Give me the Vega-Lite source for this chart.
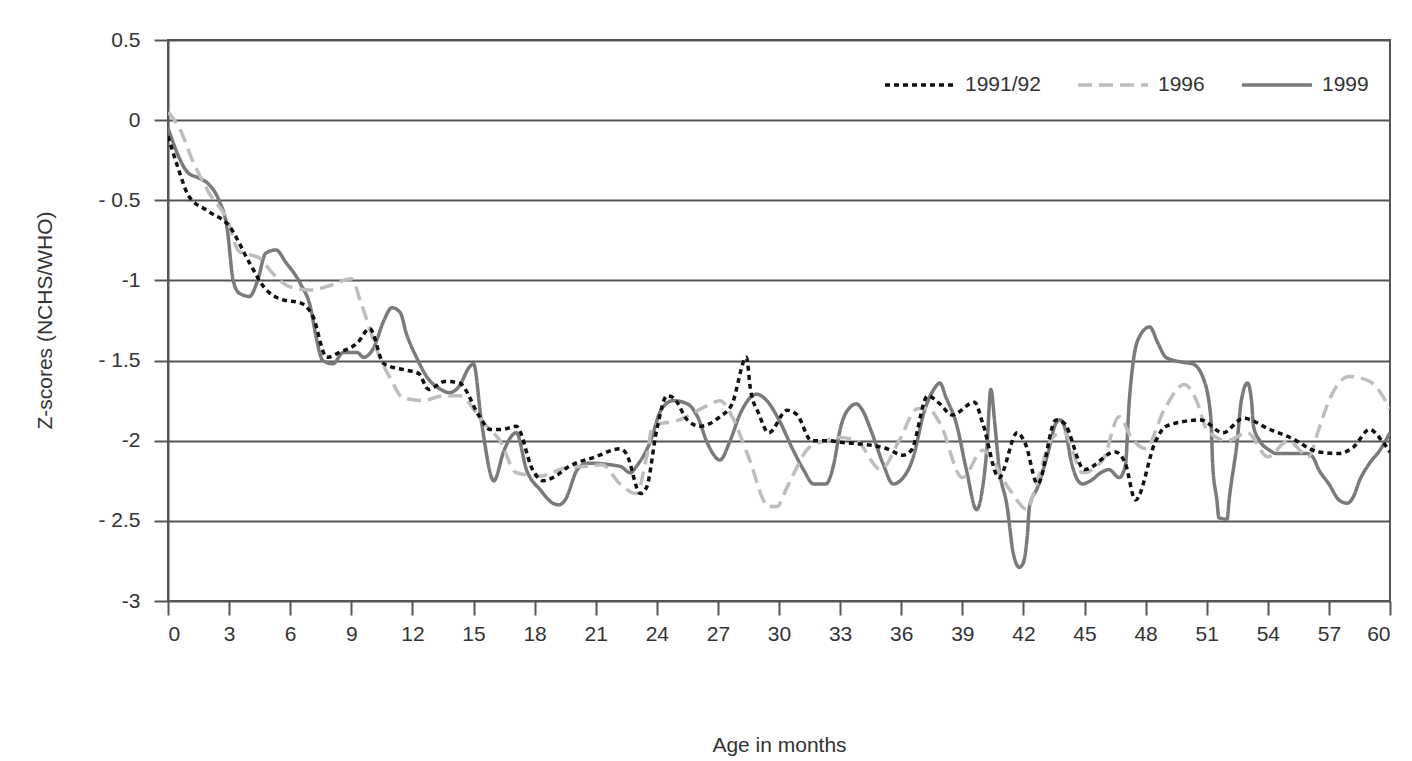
{
  "$schema": "https://vega.github.io/schema/vega-lite/v6.json",
  "autosize": "none",
  "width": 1222,
  "height": 561,
  "padding": {"left": 168, "top": 40, "right": 22, "bottom": 160},
  "background": "white",
  "config": {
    "font": "Liberation Sans",
    "view": {"stroke": "#555555", "strokeWidth": 2},
    "axis": {"labelFont": "Liberation Sans", "titleFont": "Liberation Sans", "labelColor": "#333333", "titleColor": "#333333", "labelFontSize": 21, "titleFontSize": 21, "titleFontWeight": "normal", "domainColor": "#555555", "domainWidth": 2, "tickColor": "#555555", "tickWidth": 2, "tickSize": 14}
  },
  "data": {"values": [
    {"m":0,"z":-0.05,"s":"1999"},{"m":1,"z":-0.33,"s":"1999"},{"m":1.5,"z":-0.36,"s":"1999"},{"m":2,"z":-0.4,"s":"1999"},{"m":2.5,"z":-0.5,"s":"1999"},{"m":2.9,"z":-0.67,"s":"1999"},{"m":3.2,"z":-1.0,"s":"1999"},{"m":3.5,"z":-1.08,"s":"1999"},{"m":4,"z":-1.1,"s":"1999"},{"m":4.4,"z":-1.0,"s":"1999"},{"m":4.8,"z":-0.83,"s":"1999"},{"m":5.3,"z":-0.81,"s":"1999"},{"m":5.8,"z":-0.89,"s":"1999"},{"m":6.5,"z":-1.02,"s":"1999"},{"m":7,"z":-1.17,"s":"1999"},{"m":7.3,"z":-1.37,"s":"1999"},{"m":7.6,"z":-1.5,"s":"1999"},{"m":8.1,"z":-1.52,"s":"1999"},{"m":8.6,"z":-1.45,"s":"1999"},{"m":9.3,"z":-1.45,"s":"1999"},{"m":9.6,"z":-1.48,"s":"1999"},{"m":10.1,"z":-1.42,"s":"1999"},{"m":10.6,"z":-1.25,"s":"1999"},{"m":11,"z":-1.17,"s":"1999"},{"m":11.4,"z":-1.2,"s":"1999"},{"m":11.7,"z":-1.33,"s":"1999"},{"m":12.2,"z":-1.48,"s":"1999"},{"m":12.7,"z":-1.6,"s":"1999"},{"m":13.4,"z":-1.68,"s":"1999"},{"m":13.8,"z":-1.7,"s":"1999"},{"m":14.3,"z":-1.66,"s":"1999"},{"m":14.8,"z":-1.54,"s":"1999"},{"m":15,"z":-1.52,"s":"1999"},{"m":15.4,"z":-1.89,"s":"1999"},{"m":16,"z":-2.25,"s":"1999"},{"m":16.5,"z":-2.06,"s":"1999"},{"m":17.1,"z":-1.95,"s":"1999"},{"m":17.6,"z":-2.18,"s":"1999"},{"m":18.3,"z":-2.31,"s":"1999"},{"m":18.9,"z":-2.39,"s":"1999"},{"m":19.2,"z":-2.4,"s":"1999"},{"m":19.5,"z":-2.37,"s":"1999"},{"m":20.1,"z":-2.18,"s":"1999"},{"m":20.6,"z":-2.14,"s":"1999"},{"m":22.2,"z":-2.16,"s":"1999"},{"m":22.7,"z":-2.2,"s":"1999"},{"m":23,"z":-2.16,"s":"1999"},{"m":23.7,"z":-2.0,"s":"1999"},{"m":24.2,"z":-1.81,"s":"1999"},{"m":24.8,"z":-1.75,"s":"1999"},{"m":25.5,"z":-1.77,"s":"1999"},{"m":26,"z":-1.85,"s":"1999"},{"m":26.5,"z":-2.02,"s":"1999"},{"m":27.1,"z":-2.12,"s":"1999"},{"m":27.6,"z":-2.0,"s":"1999"},{"m":28.1,"z":-1.83,"s":"1999"},{"m":28.9,"z":-1.71,"s":"1999"},{"m":29.4,"z":-1.75,"s":"1999"},{"m":30,"z":-1.87,"s":"1999"},{"m":30.7,"z":-2.06,"s":"1999"},{"m":31.2,"z":-2.18,"s":"1999"},{"m":31.7,"z":-2.27,"s":"1999"},{"m":32.3,"z":-2.27,"s":"1999"},{"m":32.7,"z":-2.14,"s":"1999"},{"m":33,"z":-1.93,"s":"1999"},{"m":33.5,"z":-1.79,"s":"1999"},{"m":33.8,"z":-1.77,"s":"1999"},{"m":34.1,"z":-1.81,"s":"1999"},{"m":34.5,"z":-1.93,"s":"1999"},{"m":35.1,"z":-2.14,"s":"1999"},{"m":35.6,"z":-2.27,"s":"1999"},{"m":36.1,"z":-2.23,"s":"1999"},{"m":36.6,"z":-2.1,"s":"1999"},{"m":37.1,"z":-1.83,"s":"1999"},{"m":37.6,"z":-1.68,"s":"1999"},{"m":37.9,"z":-1.64,"s":"1999"},{"m":38.2,"z":-1.73,"s":"1999"},{"m":38.7,"z":-1.89,"s":"1999"},{"m":39.2,"z":-2.18,"s":"1999"},{"m":39.7,"z":-2.43,"s":"1999"},{"m":40,"z":-2.29,"s":"1999"},{"m":40.2,"z":-2.06,"s":"1999"},{"m":40.4,"z":-1.68,"s":"1999"},{"m":40.6,"z":-1.9,"s":"1999"},{"m":40.8,"z":-2.16,"s":"1999"},{"m":41.2,"z":-2.41,"s":"1999"},{"m":41.5,"z":-2.7,"s":"1999"},{"m":41.8,"z":-2.79,"s":"1999"},{"m":42,"z":-2.76,"s":"1999"},{"m":42.2,"z":-2.58,"s":"1999"},{"m":42.3,"z":-2.41,"s":"1999"},{"m":42.7,"z":-2.29,"s":"1999"},{"m":43.2,"z":-2.08,"s":"1999"},{"m":43.6,"z":-1.89,"s":"1999"},{"m":43.8,"z":-1.87,"s":"1999"},{"m":44.1,"z":-1.95,"s":"1999"},{"m":44.3,"z":-2.1,"s":"1999"},{"m":44.6,"z":-2.23,"s":"1999"},{"m":44.9,"z":-2.27,"s":"1999"},{"m":45.3,"z":-2.25,"s":"1999"},{"m":45.8,"z":-2.2,"s":"1999"},{"m":46.2,"z":-2.18,"s":"1999"},{"m":46.7,"z":-2.23,"s":"1999"},{"m":47,"z":-2.16,"s":"1999"},{"m":47.2,"z":-1.75,"s":"1999"},{"m":47.4,"z":-1.5,"s":"1999"},{"m":47.7,"z":-1.35,"s":"1999"},{"m":48.2,"z":-1.29,"s":"1999"},{"m":48.6,"z":-1.39,"s":"1999"},{"m":49,"z":-1.48,"s":"1999"},{"m":49.8,"z":-1.51,"s":"1999"},{"m":50.3,"z":-1.52,"s":"1999"},{"m":50.8,"z":-1.6,"s":"1999"},{"m":51.2,"z":-1.85,"s":"1999"},{"m":51.3,"z":-2.16,"s":"1999"},{"m":51.5,"z":-2.37,"s":"1999"},{"m":51.6,"z":-2.48,"s":"1999"},{"m":52,"z":-2.49,"s":"1999"},{"m":52.1,"z":-2.37,"s":"1999"},{"m":52.5,"z":-2.0,"s":"1999"},{"m":52.7,"z":-1.75,"s":"1999"},{"m":53,"z":-1.64,"s":"1999"},{"m":53.2,"z":-1.75,"s":"1999"},{"m":53.3,"z":-1.91,"s":"1999"},{"m":53.6,"z":-2.0,"s":"1999"},{"m":54.1,"z":-2.06,"s":"1999"},{"m":54.4,"z":-2.08,"s":"1999"},{"m":55.9,"z":-2.08,"s":"1999"},{"m":56.2,"z":-2.1,"s":"1999"},{"m":56.5,"z":-2.18,"s":"1999"},{"m":57,"z":-2.27,"s":"1999"},{"m":57.5,"z":-2.37,"s":"1999"},{"m":57.9,"z":-2.39,"s":"1999"},{"m":58.2,"z":-2.35,"s":"1999"},{"m":58.5,"z":-2.25,"s":"1999"},{"m":59,"z":-2.14,"s":"1999"},{"m":59.5,"z":-2.06,"s":"1999"},{"m":60,"z":-1.95,"s":"1999"},

    {"m":0,"z":0.05,"s":"1996"},{"m":0.6,"z":-0.06,"s":"1996"},{"m":1.2,"z":-0.25,"s":"1996"},{"m":2,"z":-0.45,"s":"1996"},{"m":2.9,"z":-0.62,"s":"1996"},{"m":3.5,"z":-0.82,"s":"1996"},{"m":4.5,"z":-0.86,"s":"1996"},{"m":5.1,"z":-0.95,"s":"1996"},{"m":6,"z":-1.04,"s":"1996"},{"m":7,"z":-1.06,"s":"1996"},{"m":8,"z":-1.03,"s":"1996"},{"m":9,"z":-0.99,"s":"1996"},{"m":9.5,"z":-1.15,"s":"1996"},{"m":10.4,"z":-1.48,"s":"1996"},{"m":11,"z":-1.63,"s":"1996"},{"m":11.5,"z":-1.73,"s":"1996"},{"m":12.5,"z":-1.75,"s":"1996"},{"m":13.5,"z":-1.72,"s":"1996"},{"m":14.3,"z":-1.72,"s":"1996"},{"m":15.5,"z":-1.89,"s":"1996"},{"m":16.3,"z":-2.0,"s":"1996"},{"m":17.1,"z":-2.2,"s":"1996"},{"m":18.3,"z":-2.22,"s":"1996"},{"m":19.5,"z":-2.17,"s":"1996"},{"m":20.5,"z":-2.16,"s":"1996"},{"m":21.3,"z":-2.15,"s":"1996"},{"m":22.2,"z":-2.27,"s":"1996"},{"m":23,"z":-2.33,"s":"1996"},{"m":23.5,"z":-2.1,"s":"1996"},{"m":23.8,"z":-1.91,"s":"1996"},{"m":25.1,"z":-1.87,"s":"1996"},{"m":26.5,"z":-1.78,"s":"1996"},{"m":27.1,"z":-1.75,"s":"1996"},{"m":27.7,"z":-1.85,"s":"1996"},{"m":28.5,"z":-2.1,"s":"1996"},{"m":29.5,"z":-2.41,"s":"1996"},{"m":29.9,"z":-2.41,"s":"1996"},{"m":30.4,"z":-2.29,"s":"1996"},{"m":31.5,"z":-2.04,"s":"1996"},{"m":32.3,"z":-2.0,"s":"1996"},{"m":33,"z":-1.98,"s":"1996"},{"m":33.8,"z":-2.0,"s":"1996"},{"m":35,"z":-2.18,"s":"1996"},{"m":35.9,"z":-2.0,"s":"1996"},{"m":36.8,"z":-1.8,"s":"1996"},{"m":37.3,"z":-1.8,"s":"1996"},{"m":37.9,"z":-1.89,"s":"1996"},{"m":39,"z":-2.23,"s":"1996"},{"m":40,"z":-2.06,"s":"1996"},{"m":41.3,"z":-2.3,"s":"1996"},{"m":42.2,"z":-2.43,"s":"1996"},{"m":42.5,"z":-2.33,"s":"1996"},{"m":43.5,"z":-1.97,"s":"1996"},{"m":44,"z":-1.95,"s":"1996"},{"m":44.9,"z":-2.2,"s":"1996"},{"m":45.9,"z":-2.12,"s":"1996"},{"m":46.7,"z":-1.85,"s":"1996"},{"m":47.3,"z":-1.98,"s":"1996"},{"m":48,"z":-2.05,"s":"1996"},{"m":48.9,"z":-1.81,"s":"1996"},{"m":49.9,"z":-1.65,"s":"1996"},{"m":50.5,"z":-1.75,"s":"1996"},{"m":51,"z":-1.93,"s":"1996"},{"m":52,"z":-2.0,"s":"1996"},{"m":53,"z":-1.95,"s":"1996"},{"m":54,"z":-2.1,"s":"1996"},{"m":55,"z":-2.0,"s":"1996"},{"m":56,"z":-2.1,"s":"1996"},{"m":56.5,"z":-1.93,"s":"1996"},{"m":57,"z":-1.75,"s":"1996"},{"m":58,"z":-1.6,"s":"1996"},{"m":59,"z":-1.63,"s":"1996"},{"m":60,"z":-1.8,"s":"1996"},

    {"m":0,"z":-0.1,"s":"1991/92"},{"m":0.5,"z":-0.3,"s":"1991/92"},{"m":1,"z":-0.47,"s":"1991/92"},{"m":2,"z":-0.57,"s":"1991/92"},{"m":3,"z":-0.66,"s":"1991/92"},{"m":4,"z":-0.89,"s":"1991/92"},{"m":4.7,"z":-1.04,"s":"1991/92"},{"m":5.6,"z":-1.12,"s":"1991/92"},{"m":6.5,"z":-1.14,"s":"1991/92"},{"m":7.1,"z":-1.22,"s":"1991/92"},{"m":7.8,"z":-1.48,"s":"1991/92"},{"m":8.4,"z":-1.45,"s":"1991/92"},{"m":9.3,"z":-1.39,"s":"1991/92"},{"m":9.9,"z":-1.3,"s":"1991/92"},{"m":10.6,"z":-1.52,"s":"1991/92"},{"m":11.7,"z":-1.56,"s":"1991/92"},{"m":12.3,"z":-1.58,"s":"1991/92"},{"m":12.8,"z":-1.68,"s":"1991/92"},{"m":13.6,"z":-1.63,"s":"1991/92"},{"m":14.3,"z":-1.64,"s":"1991/92"},{"m":15.3,"z":-1.85,"s":"1991/92"},{"m":15.8,"z":-1.93,"s":"1991/92"},{"m":16.4,"z":-1.93,"s":"1991/92"},{"m":17.1,"z":-1.91,"s":"1991/92"},{"m":17.9,"z":-2.18,"s":"1991/92"},{"m":18.4,"z":-2.25,"s":"1991/92"},{"m":18.9,"z":-2.23,"s":"1991/92"},{"m":19.7,"z":-2.16,"s":"1991/92"},{"m":21,"z":-2.1,"s":"1991/92"},{"m":22.2,"z":-2.05,"s":"1991/92"},{"m":22.5,"z":-2.08,"s":"1991/92"},{"m":23.2,"z":-2.33,"s":"1991/92"},{"m":23.5,"z":-2.29,"s":"1991/92"},{"m":24,"z":-1.93,"s":"1991/92"},{"m":24.5,"z":-1.72,"s":"1991/92"},{"m":24.8,"z":-1.73,"s":"1991/92"},{"m":25.5,"z":-1.87,"s":"1991/92"},{"m":26.1,"z":-1.91,"s":"1991/92"},{"m":27.1,"z":-1.85,"s":"1991/92"},{"m":27.7,"z":-1.77,"s":"1991/92"},{"m":28.4,"z":-1.48,"s":"1991/92"},{"m":28.6,"z":-1.68,"s":"1991/92"},{"m":29,"z":-1.83,"s":"1991/92"},{"m":29.5,"z":-1.95,"s":"1991/92"},{"m":30.4,"z":-1.81,"s":"1991/92"},{"m":30.9,"z":-1.84,"s":"1991/92"},{"m":31.6,"z":-2.0,"s":"1991/92"},{"m":32.5,"z":-2.0,"s":"1991/92"},{"m":33,"z":-2.01,"s":"1991/92"},{"m":34,"z":-2.02,"s":"1991/92"},{"m":35.3,"z":-2.05,"s":"1991/92"},{"m":36.1,"z":-2.09,"s":"1991/92"},{"m":36.5,"z":-2.06,"s":"1991/92"},{"m":37.3,"z":-1.72,"s":"1991/92"},{"m":37.9,"z":-1.77,"s":"1991/92"},{"m":38.5,"z":-1.84,"s":"1991/92"},{"m":39.6,"z":-1.76,"s":"1991/92"},{"m":40,"z":-1.89,"s":"1991/92"},{"m":40.8,"z":-2.23,"s":"1991/92"},{"m":41.7,"z":-1.95,"s":"1991/92"},{"m":42.1,"z":-2.02,"s":"1991/92"},{"m":42.7,"z":-2.27,"s":"1991/92"},{"m":43.6,"z":-1.87,"s":"1991/92"},{"m":44,"z":-1.89,"s":"1991/92"},{"m":45,"z":-2.18,"s":"1991/92"},{"m":46.5,"z":-2.07,"s":"1991/92"},{"m":47,"z":-2.14,"s":"1991/92"},{"m":47.5,"z":-2.37,"s":"1991/92"},{"m":48.5,"z":-2.0,"s":"1991/92"},{"m":49,"z":-1.91,"s":"1991/92"},{"m":50.7,"z":-1.87,"s":"1991/92"},{"m":51.8,"z":-1.95,"s":"1991/92"},{"m":52.8,"z":-1.86,"s":"1991/92"},{"m":54.1,"z":-1.93,"s":"1991/92"},{"m":55.1,"z":-1.98,"s":"1991/92"},{"m":56.5,"z":-2.07,"s":"1991/92"},{"m":57.5,"z":-2.08,"s":"1991/92"},{"m":58.2,"z":-2.04,"s":"1991/92"},{"m":59,"z":-1.93,"s":"1991/92"},{"m":59.6,"z":-2.0,"s":"1991/92"},{"m":60,"z":-2.07,"s":"1991/92"}
  ]},
  "mark": {"type": "line", "interpolate": "monotone", "strokeWidth": 3.5, "clip": true},
  "encoding": {
    "x": {"field": "m", "type": "quantitative", "scale": {"domain": [0, 60], "nice": false, "zero": false},
      "axis": {"title": "Age in months", "values": [0,3,6,9,12,15,18,21,24,27,30,33,36,39,42,45,48,51,54,57,60], "grid": false, "domain": false, "labelPadding": 8, "titleY": 144, "titleBaseline": "middle"}},
    "y": {"field": "z", "type": "quantitative", "scale": {"domain": [-3, 0.5], "nice": false, "zero": false},
      "axis": {"title": "Z-scores (NCHS/WHO)", "values": [-3,-2.5,-2,-1.5,-1,-0.5,0,0.5], "grid": true, "gridColor": "#555555", "gridWidth": 2, "gridOpacity": 1, "labelPadding": 14,
        "labelExpr": "datum.value < 0 ? ((datum.value % 1 != 0 ? '- ' : '-') + format(-datum.value, '')) : format(datum.value, '')",
        "titleX": -123, "titleY": 280, "titleAlign": "center", "titleBaseline": "middle", "titleAngle": -90}},
    "color": {"field": "s", "type": "nominal", "scale": {"domain": ["1991/92", "1996", "1999"], "range": ["#111111", "#bdbdbd", "#7a7a7a"]},
      "legend": {"title": null, "orient": "none", "legendX": 715, "legendY": 8, "direction": "horizontal", "symbolType": "stroke", "symbolSize": 4900, "symbolStrokeWidth": 3.5, "labelFontSize": 21, "labelColor": "#333333", "labelFont": "Liberation Sans", "labelOffset": 8, "columnPadding": 30}},
    "strokeDash": {"field": "s", "type": "nominal", "scale": {"domain": ["1991/92", "1996", "1999"], "range": [[5, 4], [14, 7], [1, 0]]},
      "legend": {"title": null, "orient": "none", "legendX": 715, "legendY": 8, "direction": "horizontal", "symbolType": "stroke", "symbolSize": 4900, "symbolStrokeWidth": 3.5, "labelFontSize": 21, "labelColor": "#333333", "labelFont": "Liberation Sans", "labelOffset": 8, "columnPadding": 30}}
  }
}
